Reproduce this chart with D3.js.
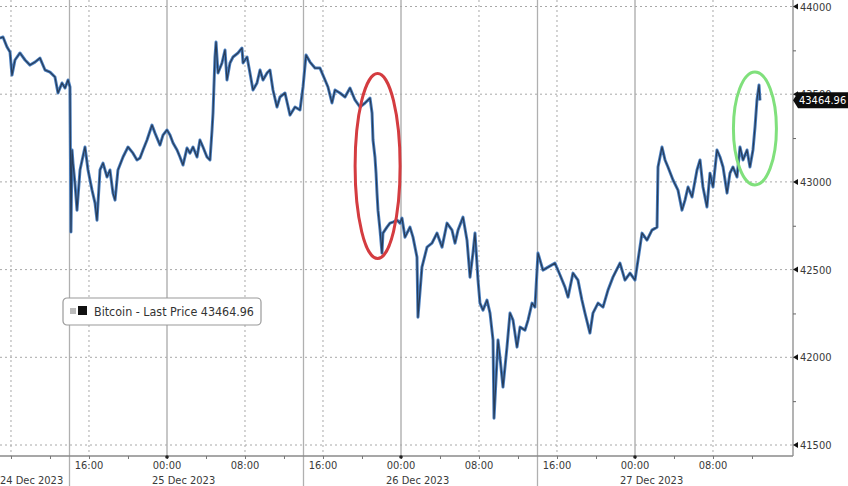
<!DOCTYPE html>
<html><head><meta charset="utf-8">
<script src="https://cdn.jsdelivr.net/npm/d3@7"></script>
<style>
html,body{margin:0;padding:0;background:#fff;}
svg{display:block;font-family:"DejaVu Sans Condensed","DejaVu Sans",sans-serif;}
</style></head>
<body><svg id="c" width="848" height="486"></svg>
<script>
// hours since 2023-12-24 00:00
const hours = [6.87,7.18,7.59,7.90,8.10,8.41,8.92,9.44,9.95,10.46,10.97,11.49,12.00,12.51,12.82,13.23,13.54,13.85,14.05,14.15,14.26,14.36,14.56,14.77,15.08,15.59,15.90,16.31,16.62,16.82,17.13,17.44,17.85,18.15,18.46,18.67,18.97,19.49,20.00,20.51,20.92,21.23,21.54,21.95,22.46,22.77,23.28,23.59,24.00,24.31,24.62,25.03,25.33,25.64,26.05,26.36,26.67,27.08,27.38,27.69,28.10,28.41,28.62,28.72,28.92,29.03,29.23,29.64,29.95,30.15,30.46,30.77,31.28,31.69,31.80,32.21,32.51,32.82,33.23,33.54,33.85,34.26,34.56,34.87,35.28,35.59,36.10,36.62,37.13,37.64,37.95,38.26,38.67,39.18,39.69,40.21,40.51,40.92,41.23,41.74,42.26,42.77,43.28,43.79,44.31,44.82,45.03,45.13,45.33,45.44,45.54,45.64,45.85,46.05,46.15,46.56,46.87,47.18,47.59,47.90,48.10,48.41,48.92,49.23,49.64,49.74,50.15,50.67,51.18,51.69,52.21,52.72,53.23,53.54,53.85,54.36,54.77,55.08,55.38,55.59,55.90,56.10,56.41,56.82,57.13,57.44,57.54,57.95,58.15,58.46,58.87,59.18,59.49,59.90,60.21,60.72,61.03,61.44,61.74,62.05,62.56,63.08,63.79,64.31,64.82,65.13,65.64,66.15,66.56,66.87,67.38,67.69,68.21,68.72,69.23,69.74,70.46,70.97,71.49,72.00,72.31,72.72,73.23,73.74,74.26,74.36,74.77,75.08,75.38,75.90,76.41,76.82,77.13,77.44,77.85,78.36,78.67,78.97,79.38,79.69,80.00,80.41,80.72,81.03,81.44,81.74,82.05,82.46,82.77,83.08,83.49,83.79,84.10,84.31,84.51,84.72,84.82];
const prices = [43820,43826,43769,43740,43609,43695,43735,43695,43666,43683,43706,43638,43626,43598,43507,43564,43535,43581,43541,42714,43182,43107,42993,42839,43068,43199,43068,42953,42879,42782,43068,43107,43028,43068,42936,42896,43068,43142,43199,43164,43125,43136,43182,43239,43324,43278,43210,43267,43296,43267,43222,43182,43142,43096,43193,43164,43199,43142,43239,43199,43142,43125,43296,43393,43712,43797,43621,43678,43752,43581,43678,43712,43735,43763,43678,43712,43621,43524,43564,43638,43581,43621,43638,43524,43427,43484,43507,43381,43427,43410,43541,43723,43683,43649,43649,43581,43541,43450,43524,43507,43484,43535,43467,43427,43450,43478,43393,43239,43142,43050,42936,42839,42725,42594,42708,42742,42765,42771,42782,42765,42794,42685,42742,42685,42571,42229,42514,42628,42651,42708,42628,42765,42725,42651,42725,42799,42668,42457,42594,42708,42440,42309,42269,42326,42252,42098,41653,42098,42001,41830,42058,42252,42212,42058,42172,42155,42212,42309,42286,42594,42497,42514,42537,42469,42400,42343,42480,42440,42326,42252,42138,42252,42309,42286,42383,42457,42537,42440,42480,42440,42554,42708,42668,42725,42742,43085,43199,43125,43085,43011,42953,42839,42896,42971,42914,43068,43125,42971,42857,43050,42971,43182,43142,43085,42936,43050,43085,43028,43199,43125,43182,43085,43182,43313,43467,43552,43464.96];
const lastPrice = 43464.96;
const yTicks = [41500,42000,42500,43000,43500,44000];
const yMinor = [41750,42250,42750,43250,43750];
const xLabelHours = [16,24,32,40,48,56,64,72,80];
const xMinorHours = [8,12,20,28,36,44,52,60,68,76,84];
const xDottedHours = [8,16,32,40,56,64,80];
const xMidnightHours = [24,48,72];
const xSeparatorHours = [14,38,62];
const dateLabels = ["24 Dec 2023","25 Dec 2023","26 Dec 2023","27 Dec 2023"];
const seriesName = "Bitcoin - Last Price";

const base = Date.UTC(2023,11,24);
const T = h => new Date(base + h*3600e3);
const data = hours.map((h,i)=>({t:T(h), p:prices[i]}));

const svg = d3.select("#c");
const W = 793, H = 456;
const x = d3.scaleUtc().domain([T(6.872), T(6.872+793/9.75)]).range([0, W]);
const y = d3.scaleLinear().domain([41500,44000]).range([445, 6.5]);

// grid
const g = svg.append("g");
g.selectAll(".hg").data(yTicks).join("line")
  .attr("x1",0).attr("x2",W).attr("y1",d=>y(d)).attr("y2",d=>y(d))
  .attr("stroke","#a8a8a8").attr("stroke-width",1).attr("stroke-dasharray","2,3");
g.selectAll(".vg").data(xDottedHours).join("line")
  .attr("x1",d=>x(T(d))).attr("x2",d=>x(T(d))).attr("y1",0).attr("y2",H)
  .attr("stroke","#a8a8a8").attr("stroke-width",1).attr("stroke-dasharray","2,3");
g.selectAll(".mid").data(xMidnightHours).join("line")
  .attr("x1",d=>x(T(d))).attr("x2",d=>x(T(d))).attr("y1",0).attr("y2",H)
  .attr("stroke","#a9a9a9").attr("stroke-width",1.3);
g.selectAll(".sep").data(xSeparatorHours).join("line")
  .attr("x1",d=>x(T(d))).attr("x2",d=>x(T(d))).attr("y1",0).attr("y2",486)
  .attr("stroke","#b0b0b0").attr("stroke-width",1.3);

// series
const line = d3.line().x(d=>x(d.t)).y(d=>y(d.p));
svg.append("path").datum(data).attr("d",line).attr("fill","none")
  .attr("stroke","#4a7fc0").attr("stroke-width",3).attr("stroke-linejoin","round");
svg.append("path").datum(data).attr("d",line).attr("fill","none")
  .attr("stroke","#1c2535").attr("stroke-width",1.2).attr("stroke-opacity",0.75).attr("stroke-linejoin","round");

// bottom axis
const xa = svg.append("g").attr("transform",`translate(0,${H})`);
xa.append("line").attr("x1",0).attr("x2",W).attr("stroke","#8a8a8a").attr("stroke-width",1.3);
xa.call(g2=>{
  const ax = d3.axisBottom(x).tickValues(xMinorHours.concat(xLabelHours).map(T)).tickSize(3).tickFormat("");
  g2.call(ax); g2.select(".domain").remove();
  g2.selectAll(".tick line").attr("stroke","#777");
});
svg.selectAll(".xl").data(xLabelHours).join("text")
  .attr("x",d=>x(T(d))).attr("y",469).attr("text-anchor","middle")
  .attr("font-size",11).attr("fill","#3a3a3a").text(d=>d3.utcFormat("%H:%M")(T(d)));
svg.selectAll(".md").data(xMidnightHours).join("circle")
  .attr("cx",d=>x(T(d))).attr("cy",H+1).attr("r",1.8).attr("fill","#222");
svg.selectAll(".dl").data(dateLabels).join("text")
  .attr("x",(d,i)=> i===0 ? 0 : x(T(xMidnightHours[i-1]))-15).attr("y",484)
  .attr("font-size",11).attr("fill","#3a3a3a").text(d=>d);

// right axis
svg.append("line").attr("x1",W).attr("x2",W).attr("y1",0).attr("y2",H)
  .attr("stroke","#8a8a8a").attr("stroke-width",1.3);
const ya = svg.append("g").attr("transform",`translate(${W},0)`);
ya.call(d3.axisRight(y).tickValues(yMinor).tickSize(3).tickFormat(""));
ya.select(".domain").remove();
ya.selectAll(".tick line").attr("stroke","#666");
svg.selectAll(".tri").data(yTicks).join("path")
  .attr("d",d=>`M${W},${y(d)} L${W+5},${y(d)-3} L${W+5},${y(d)+3} Z`).attr("fill","#111");
svg.selectAll(".yl").data(yTicks).join("text")
  .attr("x",W+7).attr("y",d=>y(d)+4).attr("font-size",11).attr("fill","#3a3a3a")
  .text(d=>d);

// last price tag
const ly = y(lastPrice);
svg.append("path")
  .attr("d",`M${W},${ly} L${W+5},${ly-8} L848,${ly-8} L848,${ly+8} L${W+5},${ly+8} Z`)
  .attr("fill","#0c0c0c");
svg.append("text").attr("x",W+6).attr("y",ly+4).attr("font-size",11).attr("fill","#fff")
  .text(d3.format(".2f")(lastPrice));

// legend
const lg = svg.append("g").attr("transform","translate(63,298)");
lg.append("rect").attr("width",198).attr("height",27).attr("rx",4)
  .attr("fill","#fff").attr("stroke","#9a9a9a").attr("stroke-width",1.2);
lg.append("rect").attr("x",7).attr("y",10).attr("width",6).attr("height",6).attr("fill","#bbb");
lg.append("rect").attr("x",15).attr("y",8).attr("width",9).attr("height",9).attr("fill","#111");
lg.append("text").attr("x",31).attr("y",18).attr("font-size",12.4).attr("fill","#333")
  .text(`${seriesName} ${d3.format(".2f")(lastPrice)}`);

// annotation ellipses
svg.append("ellipse").attr("cx",x(T(45.6))).attr("cy",y(43090)).attr("rx",22.5).attr("ry",92.5)
  .attr("fill","none").attr("stroke","#d43c40").attr("stroke-width",3);
svg.append("ellipse").attr("cx",x(T(84.3))).attr("cy",y(43305)).attr("rx",21.5).attr("ry",56.5)
  .attr("fill","none").attr("stroke","#80e07c").attr("stroke-width",3);
</script></body></html>
